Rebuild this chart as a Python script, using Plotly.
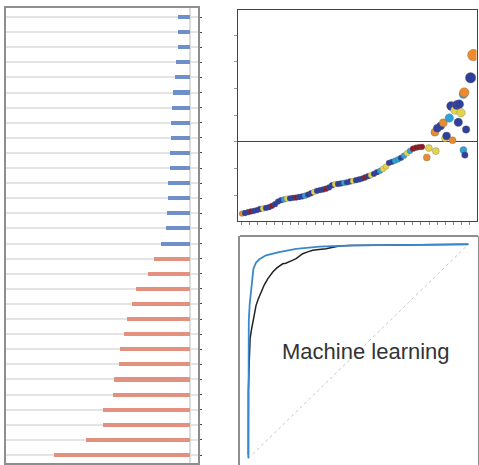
import plotly.graph_objects as go

W, H = 479, 465

# ---------------- data ----------------
# left panel: horizontal bars (top to bottom)
blue_values = [-0.27, -0.27, -0.27, -0.31, -0.33, -0.38, -0.40, -0.43, -0.43, -0.45,
               -0.45, -0.48, -0.48, -0.50, -0.53, -0.64]
red_values = [-0.81, -0.93, -1.20, -1.30, -1.39, -1.46, -1.56, -1.58, -1.70, -1.72,
              -1.93, -1.93, -2.31, -3.02]
bar_ticks = [-4, -3, -2, -1, 0]

# top-right panel: ranked effect curve (y values, in rank order)
curve_y = [-2.69, -2.67, -2.64, -2.61, -2.59, -2.56, -2.52, -2.50, -2.48, -2.45,
           -2.40, -2.34, -2.24, -2.19, -2.16, -2.13, -2.12, -2.10, -2.09, -2.07,
           -2.05, -2.02, -1.98, -1.93, -1.88, -1.84, -1.81, -1.79, -1.76, -1.71,
           -1.63, -1.59, -1.58, -1.56, -1.54, -1.52, -1.49, -1.47, -1.44, -1.41,
           -1.38, -1.34, -1.29, -1.25, -1.20, -1.14, -1.09, -1.02, -0.93, -0.79,
           -0.75, -0.71, -0.66, -0.60, -0.52, -0.43, -0.34, -0.26, -0.22, -0.20,
           -0.19]
curve_cls = list("OBBRBBBYBB" "RBBBCYBBRB" "BCBBYBBBRB" "BYBBCBBYBB"
                 "BRBYBBCYYB" "BCCBCYCRRR" "R")

# outliers beyond the ranked curve
out_rank = [61.6, 62.3, 64.6, 64.3, 65.1, 66.2, 67.1, 69.1, 67.7, 68.2, 70.2, 69.7,
            71.0, 71.6, 72.4, 73.0, 72.1, 73.8, 74.1, 74.7, 73.8, 74.3, 76.2, 77.1]
out_y = [-0.585, -0.236, -0.35, 0.36, 0.51, 0.59, 0.71, 0.89, 0.13, 0.22, 0.06, 1.34,
         1.19, 1.38, 1.41, 1.09, 0.73, 1.78, 1.85, 0.46, -0.31, -0.50, 2.40, 3.25]
out_cls = ["O", "Y", "Y", "O", "B", "B", "O", "C", "Y", "B", "O", "B",
           "Y", "B", "B", "Y", "B", "C", "O", "B", "C", "B", "B", "O"]
out_size = [7, 7, 7, 8, 8, 8, 8, 8.5, 7, 8, 7, 9,
            8.5, 9, 9, 8.5, 8.5, 8.5, 9.5, 7.5, 7, 6.5, 10.5, 11.5]

# bottom-right panel: ROC curves
ml_fpr = [0, 0.000, 0.002, 0.006, 0.012, 0.018, 0.023, 0.035, 0.05, 0.08,
          0.14, 0.217, 0.323, 0.475, 0.7, 1.0]
ml_tpr = [0, 0.30, 0.645, 0.72, 0.777, 0.85, 0.886, 0.915, 0.930, 0.949,
          0.964, 0.979, 0.989, 0.995, 0.998, 1.0]
base_fpr = [0, 0, 0.004, 0.008, 0.014, 0.020, 0.027, 0.035, 0.045, 0.058,
            0.072, 0.088, 0.100, 0.111, 0.130, 0.156, 0.170, 0.186, 0.200, 0.217,
            0.232, 0.247, 0.270, 0.293, 0.320, 0.353, 0.385, 0.414, 0.462, 0.6,
            0.8, 1.0]
base_tpr = [0.016, 0.311, 0.45, 0.561, 0.60, 0.637, 0.68, 0.715, 0.745, 0.777,
            0.81, 0.839, 0.855, 0.871, 0.89, 0.909, 0.912, 0.917, 0.925, 0.933,
            0.946, 0.956, 0.965, 0.972, 0.976, 0.979, 0.986, 0.992, 0.995, 0.997,
            0.999, 1.0]
diag = [0, 1]
label_text = "Machine learning"

# ---------------- styles ----------------
palette = {"B": "#2f3f9c", "Y": "#e4d44c", "C": "#2ba3d9", "O": "#ec8b2c",
           "R": "#8e1b22", "G": "#6aa84f"}
BLUE_BAR = "#6f8fca"
RED_BAR = "#e4907f"


def px_x(p):
    return p / W


def px_y(p):
    return 1 - p / H


fig = go.Figure()

rows_blue = list(range(len(blue_values)))
rows_red = list(range(len(blue_values), len(blue_values) + len(red_values)))

fig.add_trace(go.Bar(x=blue_values, y=rows_blue, orientation="h", width=0.27,
                     marker=dict(color=BLUE_BAR, line=dict(width=0)),
                     xaxis="x", yaxis="y", showlegend=False))
fig.add_trace(go.Bar(x=red_values, y=rows_red, orientation="h", width=0.27,
                     marker=dict(color=RED_BAR, line=dict(width=0)),
                     xaxis="x", yaxis="y", showlegend=False))

# scatter
fig.add_trace(go.Scatter(x=list(range(len(curve_y))), y=curve_y, mode="markers",
                         marker=dict(size=5.8, opacity=1,
                                     color=[palette[c] for c in curve_cls],
                                     line=dict(width=0.5, color="rgba(90,90,90,0.55)")),
                         xaxis="x2", yaxis="y2", showlegend=False))
fig.add_trace(go.Scatter(x=out_rank, y=out_y, mode="markers",
                         marker=dict(size=out_size, opacity=1,
                                     color=[palette[c] for c in out_cls],
                                     line=dict(width=0.6, color="rgba(110,110,110,0.6)")),
                         xaxis="x2", yaxis="y2", showlegend=False))

# ROC
fig.add_trace(go.Scatter(x=diag, y=diag, mode="lines",
                         line=dict(color="#c8c8c8", width=1, dash="dot"),
                         xaxis="x3", yaxis="y3", showlegend=False))
fig.add_trace(go.Scatter(x=base_fpr, y=base_tpr, mode="lines",
                         line=dict(color="#222222", width=1.5),
                         xaxis="x3", yaxis="y3", showlegend=False))
fig.add_trace(go.Scatter(x=ml_fpr, y=ml_tpr, mode="lines",
                         line=dict(color="#3a88cc", width=1.8),
                         xaxis="x3", yaxis="y3", showlegend=False))

n_rows = len(blue_values) + len(red_values)

fig.update_layout(
    width=W, height=H,
    margin=dict(l=0, r=0, t=0, b=0),
    paper_bgcolor="white", plot_bgcolor="white",
    bargap=0,
    xaxis=dict(domain=[px_x(6), px_x(198)], range=[-4.089, 0.178], anchor="y",
               tickvals=bar_ticks, ticks="outside", ticklen=3, tickcolor="#999",
               showticklabels=False, showgrid=False,
               zeroline=True, zerolinecolor="#dcdcdc", zerolinewidth=2,
               showline=True, mirror=True, linecolor="#8e8e8e", linewidth=1.6),
    yaxis=dict(domain=[px_y(463), px_y(8)], range=[29.53, -0.596], anchor="x",
               tickvals=list(range(n_rows)), side="right", ticks="outside",
               ticklen=2, tickcolor="#444", tickwidth=1.2, showticklabels=False,
               showgrid=True, gridcolor="#e4e4e4", gridwidth=2, zeroline=False,
               showline=True, mirror=True, linecolor="#8e8e8e", linewidth=1.6),
    xaxis2=dict(domain=[px_x(238), px_x(476.5)], range=[-1.33, 78.17], anchor="y2",
                tick0=-0.1, dtick=8.15 / 3, ticks="outside", ticklen=3,
                tickcolor="#888", showticklabels=False, showgrid=False,
                zeroline=False, showline=True, mirror=True,
                linecolor="#444", linewidth=1),
    yaxis2=dict(domain=[px_y(221), px_y(10)], range=[-2.97, 4.94], anchor="x2",
                tick0=0, dtick=1, ticks="outside", ticklen=3, tickcolor="#999",
                showticklabels=False, showgrid=False,
                zeroline=True, zerolinecolor="#444", zerolinewidth=1.2,
                showline=True, mirror=True, linecolor="#444", linewidth=1),
    xaxis3=dict(domain=[px_x(240), px_x(478)], range=[-0.038, 1.044], anchor="y3",
                showticklabels=False, ticks="", showgrid=False, zeroline=False,
                showline=False),
    yaxis3=dict(domain=[0, px_y(236)], range=[-0.031, 1.039], anchor="x3",
                showticklabels=False, ticks="", showgrid=False, zeroline=False,
                showline=True, mirror=True, linecolor="#8e8e8e", linewidth=2),
    shapes=[dict(type="line", xref="x3 domain", yref="y3 domain",
                 x0=0, x1=1, y0=1, y1=1, line=dict(color="#8e8e8e", width=2))],
    annotations=[dict(text=label_text, x=0.533, y=0.50, xref="x3", yref="y3",
                      showarrow=False, xanchor="center", yanchor="middle",
                      font=dict(family="Liberation Sans, Arial, sans-serif",
                                size=22, color="#333333"))],
)

fig.write_html("out.html",
               config={"displayModeBar": False},
               post_script="document.body.style.margin='0';"
                           "document.body.style.overflow='hidden';")
